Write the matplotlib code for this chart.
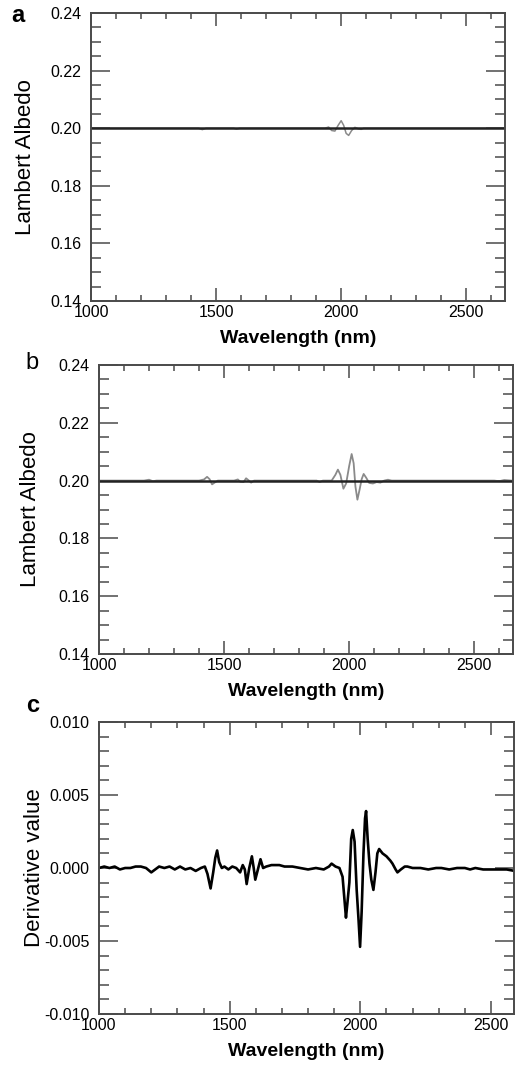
import matplotlib
matplotlib.use('agg')
import matplotlib.pyplot as plt
from matplotlib.ticker import MultipleLocator, FormatStrFormatter

plt.rcParams['font.family'] = ['Liberation Sans', 'DejaVu Sans']

# reference (black) line in panels a and b
ref_wl = [1000, 2650]
ref_val = [0.20, 0.20]

# panel a - gray spectrum
a_wl = [1000, 1430, 1445, 1460, 1570, 1582, 1595, 1935, 1950, 1962, 1975, 1988,
        2000, 2010, 2020, 2030, 2042, 2055, 2068, 2080, 2090, 2650]
a_val = [0.2000, 0.2000, 0.1995, 0.2000, 0.2000, 0.1997, 0.2000, 0.2000, 0.2004, 0.1992,
         0.1990, 0.2010, 0.2026, 0.2010, 0.1982, 0.1975, 0.1992, 0.2003, 0.1998, 0.1996,
         0.2000, 0.2000]

# panel b - gray spectrum
b_wl = [1000, 1180, 1200, 1215, 1230, 1400, 1420, 1432, 1442, 1452, 1462, 1475,
        1540, 1555, 1565, 1578, 1588, 1598, 1608, 1620, 1870, 1882, 1895, 1930,
        1945, 1955, 1965, 1977, 1988, 2000, 2010, 2018, 2025, 2033, 2042, 2050,
        2058, 2068, 2080, 2095, 2110, 2125, 2140, 2155, 2170, 2580, 2600, 2620, 2650]
b_val = [0.2000, 0.2000, 0.2003, 0.1998, 0.2000, 0.2000, 0.2004, 0.2013, 0.2005, 0.1987,
         0.1993, 0.2000, 0.2000, 0.2004, 0.1996, 0.1995, 0.2008, 0.2001, 0.1993, 0.2000,
         0.2000, 0.1995, 0.2000, 0.2000, 0.2020, 0.2038, 0.2020, 0.1972, 0.1990, 0.2050,
         0.2092, 0.2060, 0.1980, 0.1934, 0.1970, 0.2005, 0.2023, 0.2010, 0.1992, 0.1990,
         0.1995, 0.1993, 0.2000, 0.2003, 0.2000, 0.2000, 0.1998, 0.2002, 0.2000]

# panel c - derivative
c_wl = [1000, 1020, 1040, 1060, 1080, 1100, 1120, 1140, 1160, 1180, 1200, 1215, 1230,
        1250, 1270, 1290, 1310, 1330, 1350, 1370, 1390, 1405, 1415, 1427, 1437, 1445,
        1452, 1460, 1470, 1480, 1495, 1510, 1525, 1540, 1550, 1558, 1565, 1575, 1585,
        1592, 1598, 1608, 1618, 1628, 1640, 1660, 1690, 1710, 1740, 1770, 1800, 1830,
        1860, 1880, 1890, 1905, 1920, 1932, 1945, 1950, 1958, 1965, 1971, 1978, 1986,
        1993, 1999, 2005, 2012, 2018, 2022, 2028, 2035, 2042, 2050, 2058, 2065, 2072,
        2085, 2100, 2115, 2123, 2135, 2142, 2155, 2170, 2180, 2200, 2230, 2260, 2290,
        2310, 2340, 2370, 2400, 2420, 2440, 2470, 2500, 2530, 2560, 2590, 2620, 2650]
c_val = [0.0000, 0.0001, 0.0000, 0.0001, -0.0001, 0.0000, 0.0000, 0.0001, 0.0001, 0.0000,
         -0.0003, -0.0001, 0.0001, 0.0000, 0.0001, -0.0001, 0.0001, -0.0001, 0.0000, -0.0002,
         0.0000, 0.0001, -0.0004, -0.0014, -0.0003, 0.0007, 0.0012, 0.0004, 0.0000, 0.0001,
         -0.0001, 0.0001, 0.0000, -0.0003, 0.0002, -0.0001, -0.0011, 0.0000, 0.0008, 0.0000,
         -0.0008, -0.0001, 0.0006, 0.0000, 0.0001, 0.0002, 0.0002, 0.0001, 0.0001, 0.0000,
         -0.0001, 0.0000, -0.0001, 0.0001, 0.0003, 0.0001, 0.0000, -0.0006, -0.0034, -0.0025,
         -0.0010, 0.0020, 0.0026, 0.0018, -0.0015, -0.0035, -0.0054, -0.0030, 0.0010, 0.0034,
         0.0039, 0.0020, 0.0003, -0.0008, -0.0015, -0.0003, 0.0010, 0.0013, 0.0010, 0.0008,
         0.0005, 0.0003, -0.0001, -0.0003, -0.0001, 0.0001, 0.0001, 0.0000, 0.0000, -0.0001,
         0.0000, 0.0000, -0.0001, 0.0000, 0.0000, -0.0001, 0.0000, -0.0001, -0.0001, -0.0001,
         -0.0001, -0.0002, -0.0001, -0.0001]

W, H = 515.0, 1066.0
fig = plt.figure(figsize=(W / 100, H / 100), dpi=100)

# axes boxes in pixels: left, top, right, bottom
boxes = [(91, 13, 505, 301), (99, 365, 513, 654), (99, 722, 514, 1014)]
axes = []
for l, t, r, b in boxes:
    axes.append(fig.add_axes([l / W, (H - b) / H, (r - l) / W, (b - t) / H]))

spine_col = '#4a4a4a'


def style_axes(ax, ymajor, yminor, fmt):
    for s in ax.spines.values():
        s.set_color(spine_col)
        s.set_linewidth(1.4)
    ax.xaxis.set_major_locator(MultipleLocator(500))
    ax.xaxis.set_minor_locator(MultipleLocator(100))
    ax.yaxis.set_major_locator(MultipleLocator(ymajor))
    ax.yaxis.set_minor_locator(MultipleLocator(yminor))
    ax.yaxis.set_major_formatter(FormatStrFormatter(fmt))
    ax.tick_params(axis='both', which='both', direction='in', top=True, right=True,
                   color=spine_col, width=1.1, labelsize=11.5)
    ax.tick_params(axis='y', which='major', length=13.5, pad=7)
    ax.tick_params(axis='y', which='minor', length=7)
    ax.tick_params(axis='x', which='major', length=9.5, pad=3)
    ax.tick_params(axis='x', which='minor', length=4.5)
    ax.set_xlabel('Wavelength (nm)', fontsize=14, fontweight='bold', labelpad=7)


# panel a
ax = axes[0]
ax.plot(a_wl, a_val, color='#8a8a8a', linewidth=1.1)
ax.plot(ref_wl, ref_val, color='#222222', linewidth=1.8)
ax.set_xlim(1000, 2655)
ax.set_ylim(0.14, 0.24)
style_axes(ax, 0.02, 0.005, '%.2f')
ax.set_ylabel('Lambert Albedo', fontsize=16, labelpad=10)

# panel b
ax = axes[1]
ax.plot(b_wl, b_val, color='#8a8a8a', linewidth=1.3)
ax.plot(ref_wl, ref_val, color='#222222', linewidth=1.8)
ax.set_xlim(1000, 2655)
ax.set_ylim(0.14, 0.24)
style_axes(ax, 0.02, 0.005, '%.2f')
ax.set_ylabel('Lambert Albedo', fontsize=16, labelpad=12)

# panel c
ax = axes[2]
ax.plot(c_wl, c_val, color='black', linewidth=1.9)
ax.set_xlim(1000, 2588)
ax.set_ylim(-0.010, 0.010)
style_axes(ax, 0.005, 0.001, '%.3f')
ax.set_ylabel('Derivative value', fontsize=16, labelpad=-1)

# panel letters
fig.text(18 / W, 1 - 15 / H, 'a', fontsize=17, fontweight='bold', ha='center', va='center')
fig.text(32 / W, 1 - 363 / H, 'b', fontsize=17, ha='center', va='center')
fig.text(33 / W, 1 - 706 / H, 'c', fontsize=17, fontweight='bold', ha='center', va='center')

fig.savefig('out.png', dpi=100)
